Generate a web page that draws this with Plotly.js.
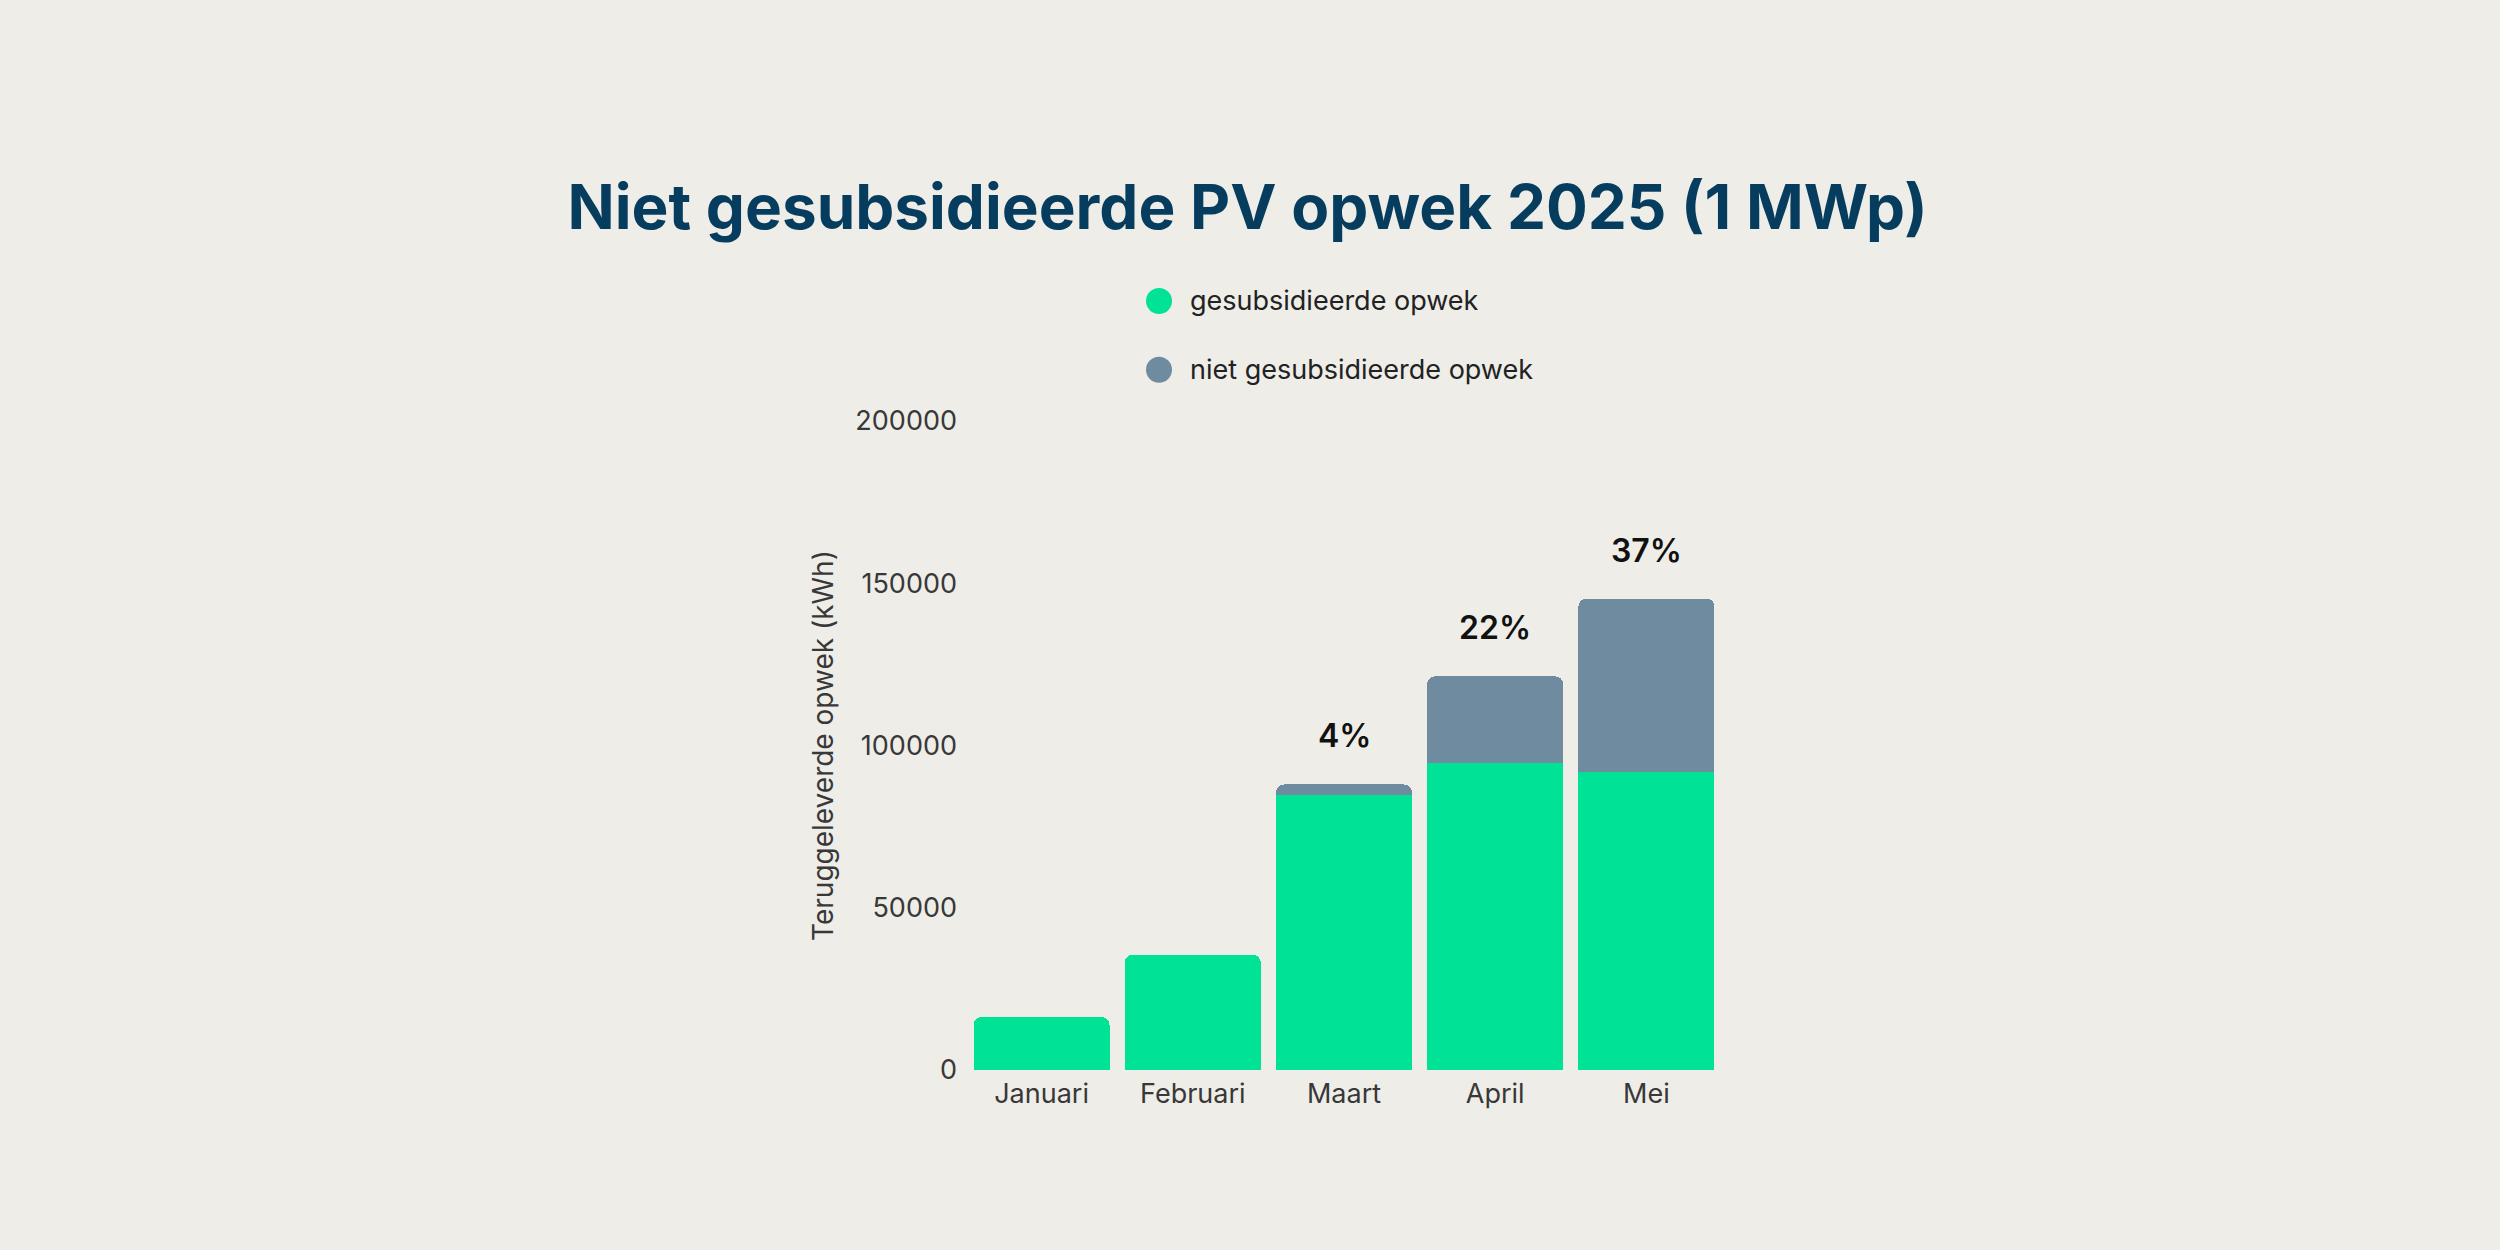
<!DOCTYPE html>
<html>
<head>
<meta charset="utf-8">
<script src="https://cdn.plot.ly/plotly-3.0.1.min.js"></script>
<style>
  html, body { margin: 0; padding: 0; background: #eeede8; }
  #chart { width: 2500px; height: 1250px; }
</style>
</head>
<body>
<div id="chart"></div>
<script>
  // maanden en opwek in kWh
  var months = ['Januari', 'Februari', 'Maart', 'April', 'Mei'];
  var subsidised = [16300, 35500, 84700, 94700, 91800];
  var unsubsidised = [0, 0, 3300, 26600, 53500];
  var shareLabels = ['', '', '4%', '22%', '37%'];

  var green = '#00e296';
  var grey = '#6f8ba0';

  var subsidisedTrace = {
    x: months,
    y: subsidised,
    name: 'gesubsidieerde opwek',
    type: 'bar',
    marker: { color: green },
    showlegend: false,
    hoverinfo: 'x+y'
  };
  var unsubsidisedTrace = {
    x: months,
    y: unsubsidised,
    name: 'niet gesubsidieerde opwek',
    type: 'bar',
    marker: { color: grey },
    showlegend: false,
    hoverinfo: 'x+y'
  };

  // percentages boven de stapels
  var annotations = months.map(function (m, i) {
    return {
      x: m,
      y: subsidised[i] + unsubsidised[i],
      text: shareLabels[i],
      showarrow: false,
      yanchor: 'bottom',
      yshift: 27,
      font: { family: 'Inter, sans-serif', size: 32, color: '#111111', weight: 600 }
    };
  });

  // eigen legenda met ronde stippen
  var legendItems = [
    { label: 'gesubsidieerde opwek', color: green, y: 1.185 },
    { label: 'niet gesubsidieerde opwek', color: grey, y: 1.079 }
  ];
  var shapes = [];
  legendItems.forEach(function (item) {
    shapes.push({
      type: 'circle',
      xref: 'paper', yref: 'paper',
      xsizemode: 'pixel', ysizemode: 'pixel',
      xanchor: 0.2553, yanchor: item.y,
      x0: -13, x1: 13, y0: -13, y1: 13,
      fillcolor: item.color,
      line: { width: 0 }
    });
    annotations.push({
      xref: 'paper', yref: 'paper',
      x: 0.2937, y: item.y,
      xanchor: 'left', yanchor: 'middle',
      text: item.label,
      showarrow: false,
      font: { family: 'Inter, sans-serif', size: 27, color: '#222222' }
    });
  });

  var layout = {
    width: 2500,
    height: 1250,
    paper_bgcolor: '#eeede8',
    plot_bgcolor: '#eeede8',
    font: { family: 'Inter, sans-serif', size: 28, color: '#383838' },
    title: {
      text: 'Niet gesubsidieerde PV opwek 2025 (1 MWp)',
      x: 0.499,
      y: 0.834,
      xanchor: 'center',
      yanchor: 'middle',
      font: { family: 'Inter, sans-serif', size: 62, color: '#063d5f', weight: 700 }
    },
    margin: { l: 966, r: 778, t: 421, b: 180 },
    barmode: 'stack',
    bargap: 0.1,
    barcornerradius: 8,
    showlegend: false,
    xaxis: {
      showgrid: false,
      showline: false,
      zeroline: false,
      ticklabelstandoff: 5,
      tickfont: { size: 27, color: '#383838' }
    },
    yaxis: {
      range: [0, 200000],
      tickvals: [0, 50000, 100000, 150000, 200000],
      tickformat: 'd',
      showgrid: false,
      showline: false,
      zeroline: false,
      ticklabelstandoff: 8,
      tickfont: { size: 27, color: '#383838' },
      title: { text: 'Teruggeleverde opwek (kWh)', standoff: 13, font: { size: 28, color: '#383838' } }
    },
    shapes: shapes,
    annotations: annotations
  };

  Plotly.newPlot('chart', [subsidisedTrace, unsubsidisedTrace], layout, { displayModeBar: false });
</script>
</body>
</html>
